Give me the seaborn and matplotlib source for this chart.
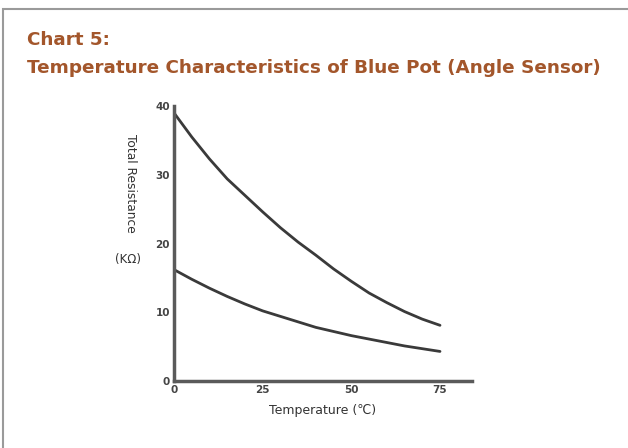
import numpy as np
import pandas as pd
import matplotlib.pyplot as plt
import seaborn as sns
from matplotlib.patches import Rectangle

sns.set_style("white")
plt.rcParams['font.family'] = ['DejaVu Sans']

# 数据
temperature = [0, 5, 10, 15, 20, 25, 30, 35, 40, 45, 50, 55, 60, 65, 70, 75]
upper_kohm = [39.0, 35.5, 32.3, 29.4, 27.0, 24.6, 22.3, 20.2, 18.3, 16.3,
              14.5, 12.8, 11.4, 10.1, 9.0, 8.1]
lower_kohm = [16.2, 14.8, 13.5, 12.3, 11.2, 10.2, 9.4, 8.6, 7.8, 7.2,
              6.6, 6.1, 5.6, 5.1, 4.7, 4.3]
x_ticks = [0, 25, 50, 75]
y_ticks = [0, 10, 20, 30, 40]

df = pd.DataFrame({
    'temp': temperature * 2,
    'r': upper_kohm + lower_kohm,
    'curve': ['upper'] * len(temperature) + ['lower'] * len(temperature),
})

fig = plt.figure(figsize=(6.28, 4.48), dpi=100)

# 外框
fig.patches.append(Rectangle((3 / 628, -0.1), 2.0, 1 - 9 / 448 + 0.1,
                             transform=fig.transFigure, fill=False,
                             edgecolor='#9a9a9a', linewidth=1.5))

title_color = '#a3562b'
fig.text(27 / 628, 1 - 40 / 448, 'Chart 5:', color=title_color,
         fontsize=13.2, fontweight='bold', va='center', ha='left')
fig.text(27 / 628, 1 - 68 / 448, 'Temperature Characteristics of Blue Pot (Angle Sensor)',
         color=title_color, fontsize=13.2, fontweight='bold', va='center', ha='left')

ax = fig.add_axes([174 / 628, 1 - 381 / 448, (471.7 - 174) / 628, (381 - 106) / 448])
sns.lineplot(data=df, x='temp', y='r', units='curve', estimator=None,
             color='#3a3a3a', linewidth=2, ax=ax)

ax.set_xlim(0, 75 * (471.7 - 174) / (440 - 174))
ax.set_ylim(0, 40)
for s in ['top', 'right']:
    ax.spines[s].set_visible(False)
for s in ['left', 'bottom']:
    ax.spines[s].set_color('#5a5a5a')
    ax.spines[s].set_linewidth(2.5)

ax.set_xticks(x_ticks)
ax.set_yticks(y_ticks)
ax.tick_params(axis='both', direction='in', length=6, width=1.2, color='#5a5a5a',
               labelsize=7.5, labelcolor='#444444')
for lab in ax.get_xticklabels() + ax.get_yticklabels():
    lab.set_fontweight('bold')
ax.tick_params(axis='x', pad=3)
ax.tick_params(axis='y', pad=3)
ax.set_xlabel('Temperature (℃)', fontsize=9, color='#333333', labelpad=6)
ax.set_ylabel('')

fig.text(130 / 628, 1 - 183 / 448, 'Total Resistance', rotation=-90, fontsize=8.8,
         color='#333333', ha='center', va='center')
fig.text(128 / 628, 1 - 259 / 448, '(KΩ)', fontsize=8.5, color='#333333',
         ha='center', va='center')

fig.savefig('out.png', dpi=100)
